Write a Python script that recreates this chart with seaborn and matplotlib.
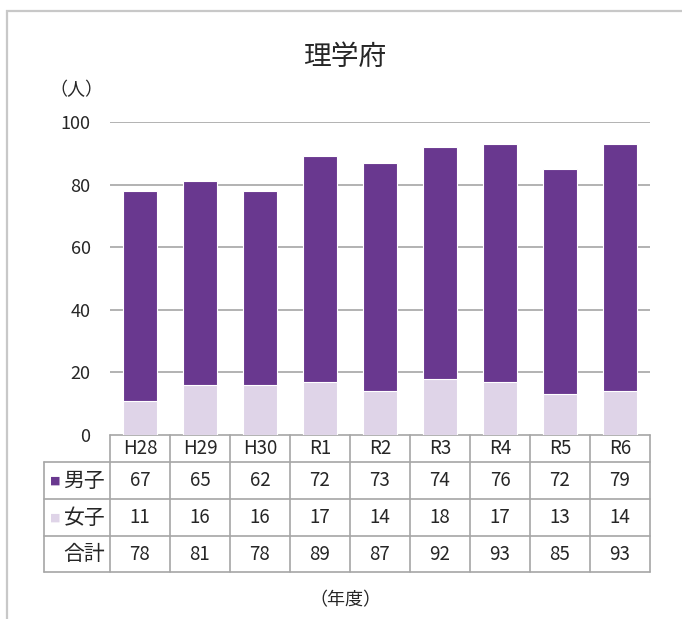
import matplotlib
matplotlib.use("Agg")
import matplotlib.pyplot as plt
import matplotlib.transforms as mtransforms
import seaborn as sns
import pandas as pd
from matplotlib.patches import Rectangle

years = ['H28', 'H29', 'H30', 'R1', 'R2', 'R3', 'R4', 'R5', 'R6']
male = [67, 65, 62, 72, 73, 74, 76, 72, 79]
female = [11, 16, 16, 17, 14, 18, 17, 13, 14]
total = [m + f for m, f in zip(male, female)]
row_labels = ['男子', '女子', '合計']

male_color = '#69388f'
female_color = '#dfd4e8'
grid_color = '#a6a6a6'

df = pd.DataFrame({'year': years, 'male': male, 'female': female, 'total': total})

sns.set_style('white')
plt.rcParams['font.family'] = ['Noto Sans CJK JP', 'DejaVu Sans']

fig = plt.figure(figsize=(6.82, 6.19), dpi=100)
AX_H = 313  # axes height in px
ax = fig.add_axes([110 / 682, 184 / 619, 540 / 682, AX_H / 619])

# stacked bars: total in purple, female drawn over the bottom part
sns.barplot(data=df, x='year', y='total', color=male_color, width=0.58,
            edgecolor='white', linewidth=0.8, saturation=1, ax=ax, zorder=3)
sns.barplot(data=df, x='year', y='female', color=female_color, width=0.58,
            edgecolor='white', linewidth=0.8, saturation=1, ax=ax, zorder=4)

n = len(years)
ax.set_ylim(0, 100)
ax.set_xlim(-0.5, n - 0.5)
ax.set_yticks(range(0, 101, 20))
ax.set_yticklabels([str(v) for v in range(0, 101, 20)], fontsize=13)
ax.tick_params(axis='y', length=0, pad=14)
ax.set_xticks([])
ax.set_xlabel('')
ax.set_ylabel('')
for y in range(20, 101, 20):
    ax.axhline(y, color=grid_color, lw=1.2, zorder=1)
for s in ax.spines.values():
    s.set_visible(False)

# data table under the bars (x in data units, y in px below axes bottom)
tr = mtransforms.blended_transform_factory(ax.transData, ax.transAxes)
lab_left = -0.5 - 66 / 60
row_edges = [0, -27, -64, -101, -137]
lk = dict(color=grid_color, lw=1.2, transform=tr, clip_on=False)
ax.plot([-0.5, n - 0.5], [0, 0], **lk)
for e in row_edges[1:]:
    ax.plot([lab_left, n - 0.5], [e / AX_H, e / AX_H], **lk)
for k in range(n + 1):
    ax.plot([k - 0.5, k - 0.5], [0, row_edges[-1] / AX_H], **lk)
ax.plot([lab_left, lab_left], [row_edges[1] / AX_H, row_edges[-1] / AX_H], **lk)

for i, yr in enumerate(years):
    ax.text(i, (row_edges[0] + row_edges[1]) / 2 / AX_H, yr, transform=tr,
            ha='center', va='center', fontsize=13.5)
for r, vals in enumerate([male, female, total]):
    yc = (row_edges[r + 1] + row_edges[r + 2]) / 2 / AX_H
    ax.text(-0.58, yc, row_labels[r], transform=tr, ha='right', va='center', fontsize=15)
    for i, v in enumerate(vals):
        ax.text(i, yc, str(v), transform=tr, ha='center', va='center', fontsize=13.5)

# legend keys inside the row labels
for r, col in enumerate([male_color, female_color]):
    yc = (row_edges[r + 1] + row_edges[r + 2]) / 2 / AX_H
    ax.text(lab_left + 0.19, yc, '■', color=col, fontsize=8, transform=tr,
            ha='center', va='center', family='DejaVu Sans')

fig.text(345 / 682, 1 - 57 / 619, '理学府', fontsize=20, ha='center', va='center')
fig.text(76 / 682, 1 - 90 / 619, '（人）', fontsize=13, ha='center', va='center')
fig.text(345 / 682, 1 - 600 / 619, '（年度）', fontsize=13, ha='center', va='center')

fig.add_artist(Rectangle((7 / 682, -0.1), 1.2, 1 - 11 / 619 + 0.1,
                         transform=fig.transFigure, fill=False,
                         edgecolor='#c8c8c8', lw=1.6))

fig.savefig('out.png', dpi=100)
